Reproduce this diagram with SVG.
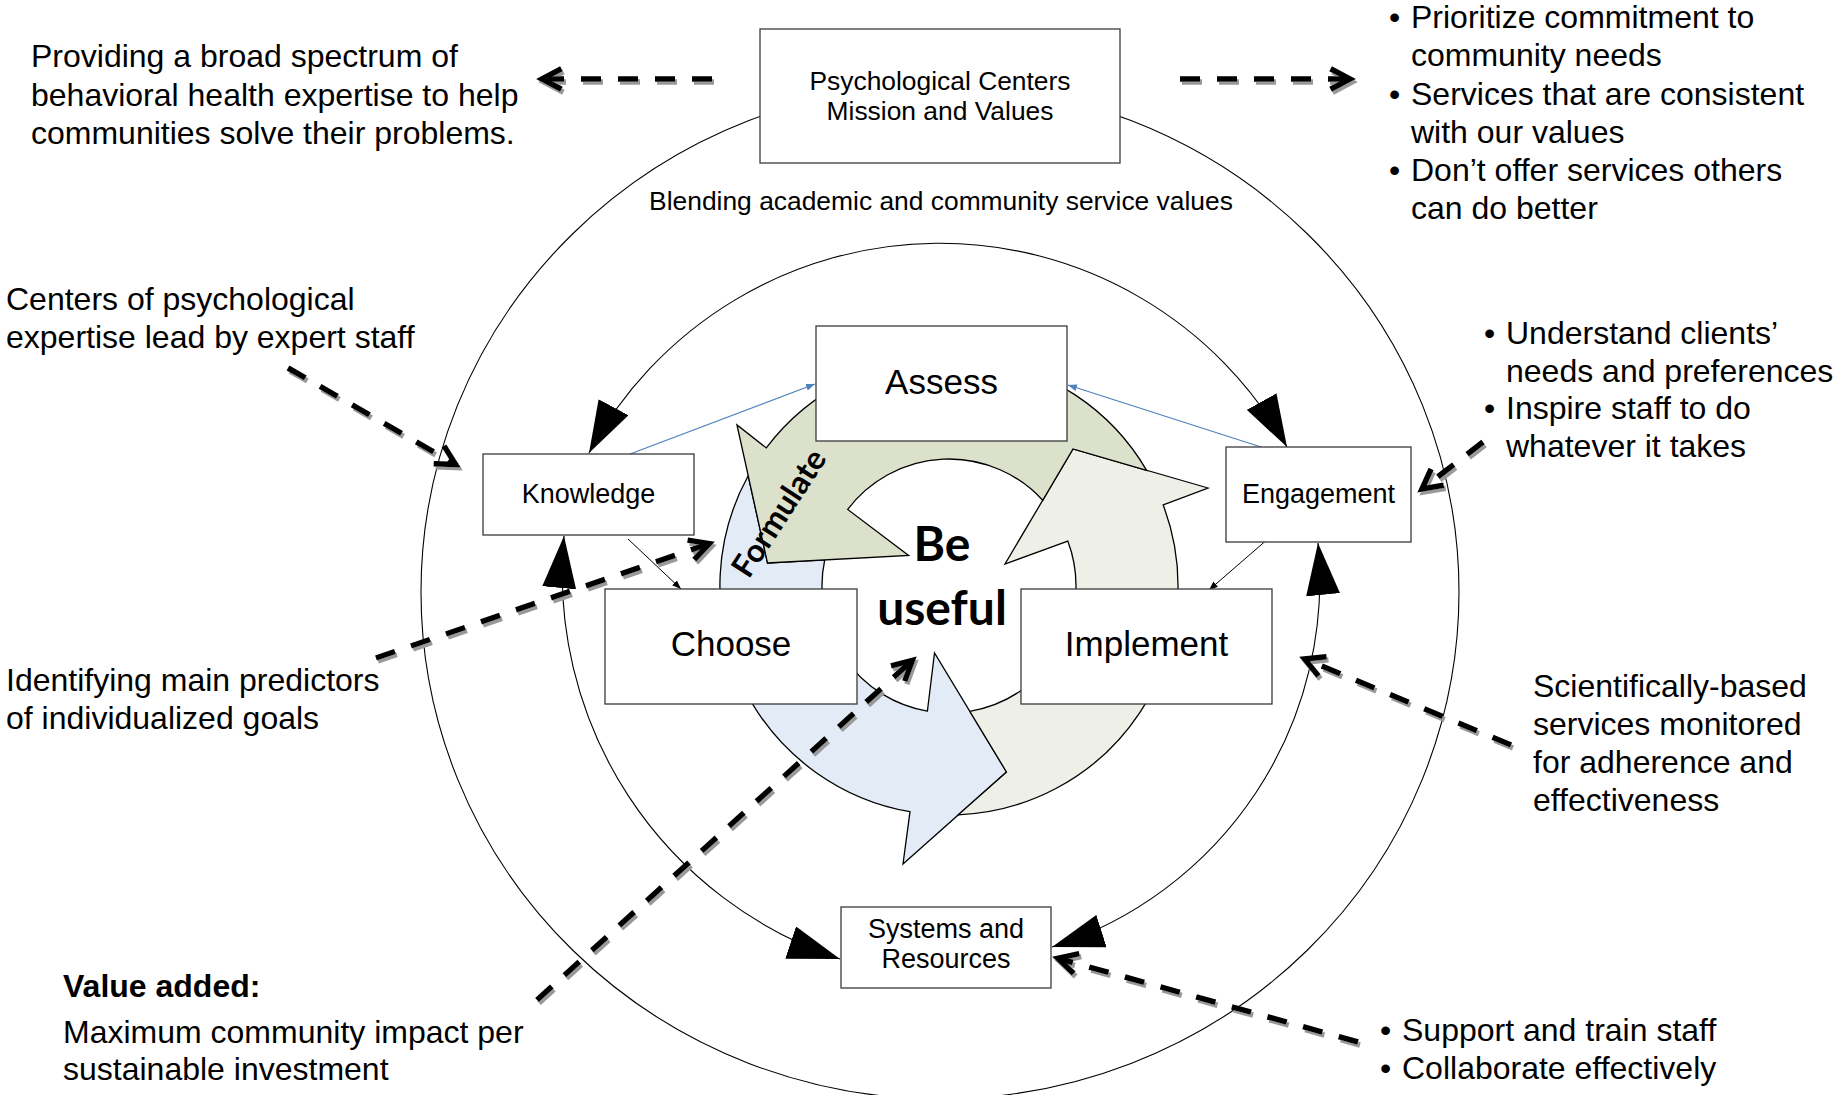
<svg xmlns="http://www.w3.org/2000/svg" width="1839" height="1095" viewBox="0 0 1839 1095">
<defs>
<style>
text{font-family:'Liberation Sans',Arial,sans-serif;fill:#000}
.lbl{font-size:32px}
.bx{fill:#fff;stroke:#3a3a3a;stroke-width:1.3}
.bt{font-size:27px;text-anchor:middle}
.pt{font-size:26.4px;text-anchor:middle}
.big{font-size:35px;text-anchor:middle}
.ring{fill:none;stroke:#000;stroke-width:1.1}
.cyc{stroke:#000;stroke-width:1.3;stroke-linejoin:miter}
.dl{fill:none;stroke:#000;stroke-width:5.5;stroke-dasharray:20 17}
.ch{fill:none;stroke:#000;stroke-width:5.5;stroke-linejoin:miter}
.thin{fill:none;stroke:#000;stroke-width:1}
.blue{fill:none;stroke:#4f81bd;stroke-width:1.2}
.bold{font-family:Lato,'Liberation Sans',sans-serif;font-weight:700}
</style>
<marker id="big" markerUnits="userSpaceOnUse" markerWidth="52" markerHeight="34" viewBox="0 0 52 34" refX="52" refY="17" orient="auto-start-reverse"><path d="M0,0L52,17L0,34z" fill="#000"/></marker>
<marker id="sm" markerUnits="userSpaceOnUse" markerWidth="9" markerHeight="7" viewBox="0 0 9 7" refX="9" refY="3.5" orient="auto"><path d="M0,0L9,3.5L0,7z" fill="#000"/></marker>
<marker id="smb" markerUnits="userSpaceOnUse" markerWidth="9" markerHeight="7" viewBox="0 0 9 7" refX="9" refY="3.5" orient="auto"><path d="M0,0L9,3.5L0,7z" fill="#4f81bd"/></marker>
<filter id="sh" filterUnits="userSpaceOnUse" x="0" y="0" width="1839" height="1095"><feOffset in="SourceAlpha" dx="2" dy="3" result="o"/><feFlood flood-color="#999"/><feComposite in2="o" operator="in" result="s"/><feMerge><feMergeNode in="s"/><feMergeNode in="SourceGraphic"/></feMerge></filter>
</defs>
<rect width="1839" height="1095" fill="#fff"/>

<g id="rings">
<ellipse class="ring" cx="940" cy="592" rx="519" ry="507"/>
<path class="ring" d="M589,453 A398,398 0 0 1 1287,447" marker-start="url(#big)" marker-end="url(#big)"/>
<path class="ring" d="M564,536 A406,406 0 0 0 840,959" marker-start="url(#big)" marker-end="url(#big)"/>
<path class="ring" d="M1318,543 A385,385 0 0 1 1052,947" marker-start="url(#big)" marker-end="url(#big)"/>
</g>

<g id="cycle">
<path class="cyc" fill="#e3ebf6" d="M903,864 L1006.5,772 L934.5,653 L927.4,711.1 A127,127 0 0 1 824.7,559.9 L767.5,563 L748.2,475.8 A229,229 0 0 0 910,811.7 Z"/>
<path class="cyc" fill="#eeefe6" d="M1208,488 L1073,449 L1005,564 L1067.8,541.1 A127,127 0 0 1 969.8,711.3 L1006.5,772 L958.3,814.8 A229,229 0 0 0 1163.2,505 Z"/>
<path class="cyc" fill="#dce1cb" d="M737,425 L767.5,563 L908.6,555.4 L847.7,509.4 A127,127 0 0 1 1042.7,500.3 L1073,449 L1146.6,470.3 A229,229 0 0 0 766.3,447.9 Z"/>
<text class="bold" font-size="32" text-anchor="middle" transform="translate(779,513) rotate(-57)" x="0" y="11">Formulate</text>
</g>

<g id="links">
<path class="blue" d="M630,454 L815,384" marker-end="url(#smb)"/>
<path class="blue" d="M1261,447 L1068,385" marker-end="url(#smb)"/>
<path class="thin" d="M628,539 L681,589" marker-end="url(#sm)"/>
<path class="thin" d="M1269,538 L1209,590" marker-end="url(#sm)"/>
</g>

<g id="node-psych"><rect class="bx" x="760" y="29" width="360" height="134"/><text class="pt" x="940" y="90">Psychological Centers</text><text class="pt" x="940" y="120">Mission and Values</text></g>
<g id="node-assess"><rect class="bx" x="816" y="326" width="251" height="115"/><text class="big" x="941.5" y="394">Assess</text></g>
<g id="node-knowledge"><rect class="bx" x="483" y="454" width="211" height="81"/><text class="bt" x="588.5" y="503">Knowledge</text></g>
<g id="node-engagement"><rect class="bx" x="1226" y="447" width="185" height="95"/><text class="bt" x="1318.5" y="503">Engagement</text></g>
<g id="node-choose"><rect class="bx" x="605" y="589" width="252" height="115"/><text class="big" x="731" y="656">Choose</text></g>
<g id="node-implement"><rect class="bx" x="1021" y="589" width="251" height="115"/><text class="big" x="1146.5" y="656">Implement</text></g>
<g id="node-systems"><rect class="bx" x="841" y="907" width="210" height="81"/><text class="bt" x="946" y="938">Systems and</text><text class="bt" x="946" y="968">Resources</text></g>
<g id="node-center"><text class="bold" font-size="48" text-anchor="middle" x="942" y="561">Be</text><text class="bold" font-size="48" text-anchor="middle" x="942" y="625">useful</text></g>
<g id="node-blending"><text class="pt" x="941" y="210">Blending academic and community service values</text></g>

<g id="connectors">
<g filter="url(#sh)"><path class="dl" d="M712,79 L542,79"/><polyline class="ch" points="561.4,68.7 542,79 561.4,89.3"/></g>
<g filter="url(#sh)"><path class="dl" d="M1180,79 L1350,79"/><polyline class="ch" points="1330.6,68.7 1350,79 1330.6,89.3"/></g>
<g filter="url(#sh)"><path class="dl" d="M288,368 L455.7,464.5"/><polyline class="ch" points="444,445.9 455.7,464.5 433.7,463.8"/></g>
<g filter="url(#sh)"><path class="dl" d="M376,658 L709.3,543.6"/><polyline class="ch" points="687.6,540.1 709.3,543.6 694.3,559.7"/></g>
<g filter="url(#sh)"><path class="dl" d="M537,1000 L912.3,660.4"/><polyline class="ch" points="891,665.8 912.3,660.4 904.8,681.1"/></g>
<g filter="url(#sh)"><path class="dl" d="M1483,442 L1422,489"/><polyline class="ch" points="1443.7,485.3 1422,489 1431.1,469"/></g>
<g filter="url(#sh)"><path class="dl" d="M1511,745 L1304.6,658.9"/><polyline class="ch" points="1318.5,675.9 1304.6,658.9 1326.5,656.8"/></g>
<g filter="url(#sh)"><path class="dl" d="M1358,1042 L1057.8,958.3"/><polyline class="ch" points="1073.7,973.5 1057.8,958.3 1079.3,953.6"/></g>
</g>

<g id="note-topleft"><text class="lbl" x="31" y="67">Providing a broad spectrum of</text><text class="lbl" x="31" y="106">behavioral health expertise to help</text><text class="lbl" x="31" y="144">communities solve their problems.</text></g>
<g id="note-centers"><text class="lbl" x="6" y="310">Centers of psychological</text><text class="lbl" x="6" y="348">expertise lead by expert staff</text></g>
<g id="note-identifying"><text class="lbl" x="6" y="691">Identifying main predictors</text><text class="lbl" x="6" y="729">of individualized goals</text></g>
<g id="note-value"><text class="lbl" x="63" y="997" font-weight="700">Value added:</text><text class="lbl" x="63" y="1043">Maximum community impact per</text><text class="lbl" x="63" y="1080">sustainable investment</text></g>
<g id="note-topright">
<text class="lbl" x="1389" y="28">•</text><text class="lbl" x="1411" y="28">Prioritize commitment to</text>
<text class="lbl" x="1411" y="66">community needs</text>
<text class="lbl" x="1389" y="105">•</text><text class="lbl" x="1411" y="105">Services that are consistent</text>
<text class="lbl" x="1411" y="143">with our values</text>
<text class="lbl" x="1389" y="181">•</text><text class="lbl" x="1411" y="181">Don’t offer services others</text>
<text class="lbl" x="1411" y="219">can do better</text>
</g>
<g id="note-understand">
<text class="lbl" x="1484" y="344">•</text><text class="lbl" x="1506" y="344">Understand clients’</text>
<text class="lbl" x="1506" y="382">needs and preferences</text>
<text class="lbl" x="1484" y="419">•</text><text class="lbl" x="1506" y="419">Inspire staff to do</text>
<text class="lbl" x="1506" y="457">whatever it takes</text>
</g>
<g id="note-scientific"><text class="lbl" x="1533" y="697">Scientifically-based</text><text class="lbl" x="1533" y="735">services monitored</text><text class="lbl" x="1533" y="773">for adherence and</text><text class="lbl" x="1533" y="811">effectiveness</text></g>
<g id="note-support">
<text class="lbl" x="1380" y="1041">•</text><text class="lbl" x="1402" y="1041">Support and train staff</text>
<text class="lbl" x="1380" y="1079">•</text><text class="lbl" x="1402" y="1079">Collaborate effectively</text>
</g>
</svg>
